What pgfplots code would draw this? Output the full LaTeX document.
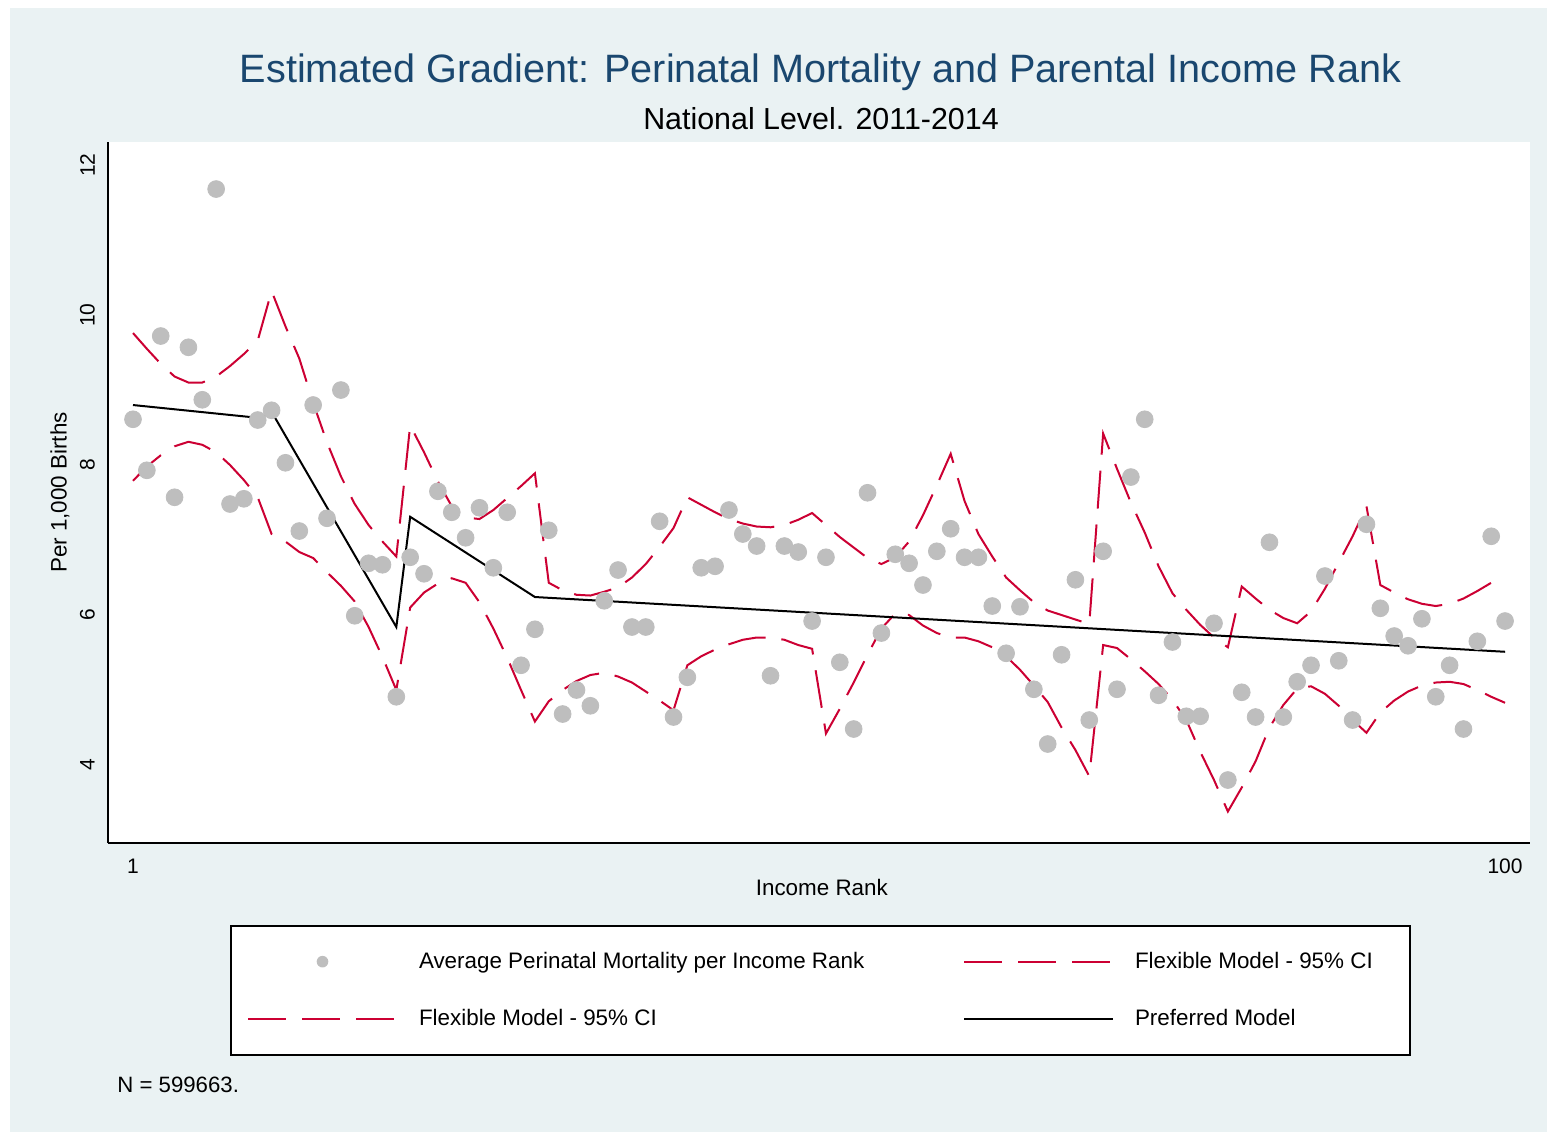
\documentclass[border=0pt]{standalone}
\usepackage{fontspec}
\setmainfont{Liberation Sans}
\usepackage{pgfplots}
\usepackage{pgfplotstable}
\pgfplotsset{compat=1.18}

\definecolor{bgblue}{RGB}{234,242,243}
\definecolor{titleblue}{RGB}{26,71,111}
\definecolor{cired}{RGB}{204,0,51}
\definecolor{dotgray}{RGB}{190,190,190}

\pgfplotsset{
  lineleg/.style={legend image code/.code={\draw[##1] (0pt,0pt) -- (74.5pt,0pt);}},
  dotleg/.style={legend image code/.code={\path[draw=none] (0pt,0pt) -- (74.5pt,0pt);
    \fill[dotgray, draw=none] (37.25pt,0pt) circle (2.9pt);}},
}

% rank, average mortality, flexible model upper / lower 95% CI
\pgfplotstableread{
r  avg   up    lo
1  8.61  9.76  7.79
2  7.93  9.55  7.98
3  9.72  9.35  8.13
4  7.57  9.18  8.25
5  9.57  9.10  8.31
6  8.87  9.10  8.27
7  11.68 9.18  8.17
8  7.48  9.32  8.00
9  7.55  9.48  7.80
10 8.60  9.66  7.57
11 8.73  10.32 7.08
12 8.03  9.85  6.98
13 7.12  9.42  6.84
14 8.80  8.83  6.76
15 7.29  8.30  6.57
16 9.00  7.85  6.39
17 5.99  7.48  6.18
18 6.69  7.20  5.84
19 6.67  6.98  5.44
20 4.91  6.78  5.00
21 6.77  8.53  6.10
22 6.55  8.17  6.30
23 7.65  7.78  6.42
24 7.37  7.45  6.49
25 7.03  7.30  6.43
26 7.43  7.28  6.17
27 6.63  7.40  5.82
28 7.37  7.56  5.43
29 5.33  7.72  5.00
30 5.81  7.89  4.58
31 7.13  6.43  4.85
32 4.68  6.33  5.00
33 5.00  6.27  5.12
34 4.79  6.26  5.20
35 6.19  6.31  5.23
36 6.60  6.37  5.18
37 5.84  6.50  5.10
38 5.84  6.68  4.98
39 7.25  6.91  4.86
40 4.64  7.16  4.73
41 5.17  7.57  5.33
42 6.63  7.47  5.45
43 6.65  7.37  5.54
44 7.40  7.28  5.61
45 7.08  7.22  5.67
46 6.92  7.18  5.70
47 5.19  7.17  5.70
48 6.92  7.20  5.67
49 6.84  7.27  5.60
50 5.92  7.36  5.55
51 6.77  7.20  4.42
52 5.37  7.04  4.75
53 4.48  6.90  5.10
54 7.63  6.76  5.47
55 5.76  6.68  5.82
56 6.81  6.77  6.02
57 6.69  6.98  6.00
58 6.40  7.33  5.86
59 6.85  7.73  5.76
60 7.15  8.15  5.70
61 6.77  7.52  5.70
62 6.77  7.08  5.65
63 6.12  6.78  5.57
64 5.49  6.50  5.45
65 6.11  6.33  5.27
66 5.01  6.17  5.06
67 4.28  6.06  4.84
68 5.47  6.00  4.50
69 6.47  5.94  4.20
70 4.60  5.88  3.85
71 6.85  8.42  5.60
72 5.01  7.95  5.56
73 7.84  7.50  5.41
74 8.61  7.10  5.25
75 4.93  6.65  5.08
76 5.64  6.29  4.87
77 4.65  6.07  4.60
78 4.65  5.87  4.18
79 5.89  5.70  3.80
80 3.80  5.57  3.38
81 4.97  6.38  3.70
82 4.64  6.22  4.05
83 6.97  6.07  4.50
84 4.64  5.96  4.80
85 5.11  5.89  5.02
86 5.33  6.05  5.05
87 6.52  6.35  4.95
88 5.39  6.70  4.79
89 4.60  7.05  4.60
90 7.21  7.45  4.43
91 6.09  6.40  4.70
92 5.72  6.30  4.86
93 5.59  6.21  4.98
94 5.95  6.15  5.06
95 4.91  6.12  5.10
96 5.33  6.15  5.11
97 4.48  6.22  5.08
98 5.65  6.32  5.00
99 7.05  6.43  4.91
100 5.92 6.52  4.83
}\mortality

\begin{document}
\begin{tikzpicture}
\fill[white] (0,0) rectangle (773.5pt,-566pt);
\fill[bgblue] (5pt,-4pt) rectangle (773.5pt,-566pt);
\useasboundingbox (0,0) rectangle (773.5pt,-566pt);

\node[anchor=base, text=titleblue, font=\fontsize{19.8}{24}\selectfont]
  at (410.25pt,-41pt) {Estimated Gradient: Perinatal Mortality and Parental Income Rank};
\node[anchor=base, font=\fontsize{15.2}{18}\selectfont]
  at (410.5pt,-64.5pt) {National Level. 2011-2014};
\node[anchor=base west, inner sep=0pt, font=\fontsize{11.1}{13}\selectfont]
  at (58.5pt,-546pt) {N = 599663.};

\begin{axis}[
  at={(54pt,-421.5pt)}, anchor=south west,
  scale only axis, width=711pt, height=350.5pt,
  xmin=-0.804, xmax=101.8, ymin=2.96, ymax=12.307,
  axis x line*=bottom, axis y line*=left,
  axis line style={line width=1pt, -},
  axis background/.style={fill=white},
  xtick={1,100}, ytick={4,6,8,10,12},
  major tick length=0pt,
  /pgf/number format/assume math mode=true,
  tick label style={font=\fontsize{10.5}{12}\selectfont},
  xticklabel style={anchor=center, yshift=-11.5pt},
  yticklabel style={anchor=center, xshift=-10.25pt, rotate=90},
  xlabel={Income Rank},
  ylabel={Per 1,000 Births},
  label style={font=\fontsize{11.2}{13}\selectfont},
  xlabel style={at={(axis description cs:0.502,-0.0628)}, anchor=center},
  ylabel style={at={(axis description cs:-0.0338,0.5)}, anchor=center},
  legend style={
    at={(axis description cs:0.0858,-0.117)}, anchor=north west,
    draw=black, line width=1pt, fill=white,
    inner xsep=8pt, inner ysep=13pt,
    font=\fontsize{11.2}{13}\selectfont,
    nodes={inner sep=0pt},
    /tikz/every odd column/.append style={column sep=10.5pt},
    /tikz/every even column/.append style={column sep=0pt},
    row sep=19pt,
  },
  legend columns=2,
  legend cell align=left,
]
\addplot[only marks, mark=*, mark size=4.2pt, color=dotgray,
  mark options={draw=dotgray, fill=dotgray}, dotleg]
  table[x=r, y=avg] {\mortality};
\addlegendentry{\makebox[272pt][l]{Average Perinatal Mortality per Income Rank}}

\addplot[color=cired, line width=1pt, dash pattern=on 19pt off 8pt, lineleg]
  table[x=r, y=up] {\mortality};
\addlegendentry{\makebox[129.5pt][l]{Flexible Model - 95\% CI}}

\addplot[color=cired, line width=1pt, dash pattern=on 19pt off 8pt, lineleg]
  table[x=r, y=lo] {\mortality};
\addlegendentry{\makebox[272pt][l]{Flexible Model - 95\% CI}}

\addplot[color=black, line width=1pt, lineleg]
  coordinates {(1,8.80) (10,8.63) (11,8.71) (20,5.84) (21,7.31) (30,6.24) (100,5.51)};
\addlegendentry{\makebox[129.5pt][l]{Preferred Model}}
\end{axis}
\end{tikzpicture}
\end{document}
